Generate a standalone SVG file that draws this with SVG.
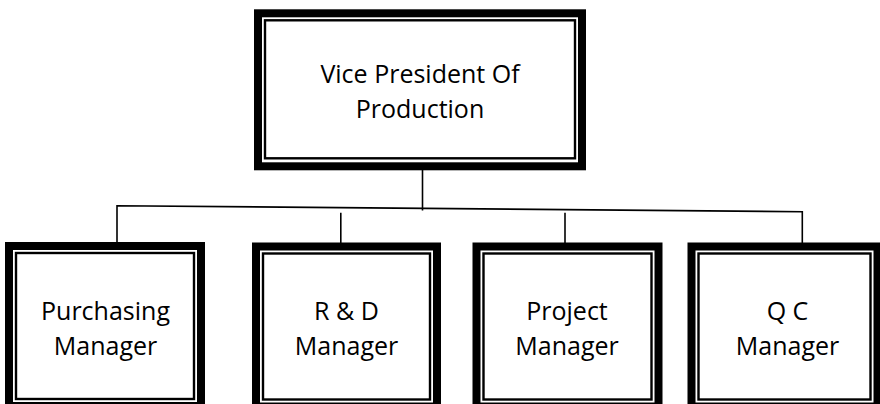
<svg xmlns="http://www.w3.org/2000/svg" width="880" height="404" viewBox="0 0 880 404">
  <style>
    .frame { fill: #ffffff; stroke: #000000; stroke-width: 8; }
    .inner { fill: none; stroke: #000000; stroke-width: 2.4; }
    .label { font-family: "Open Sans", "Noto Sans", "DejaVu Sans", sans-serif; font-size: 25px; fill: #000000; text-anchor: middle; }
    .link { fill: none; stroke: #000000; stroke-width: 1.6; }
  </style>
  <rect width="880" height="404" fill="#ffffff"/>

  <!-- connectors -->
  <g id="connectors">
    <line class="link" x1="422.5" y1="170" x2="422.5" y2="210.5"/>
    <polyline class="link" points="117,246 117,205.7 802.3,211.7 802.3,253"/>
    <line class="link" x1="340.8" y1="212.7" x2="340.8" y2="253"/>
    <line class="link" x1="565" y1="212.7" x2="565" y2="253"/>
  </g>

  <!-- top: Vice President -->
  <g id="vp-production">
    <rect class="frame" x="258" y="13.3" width="324" height="153"/>
    <rect class="inner" x="265" y="20.3" width="310" height="138"/>
    <text class="label" x="420" y="82.7">Vice President Of</text>
    <text class="label" x="420" y="118">Production</text>
  </g>

  <!-- managers -->
  <g id="purchasing-manager">
    <rect class="frame" x="9" y="246" width="192" height="160"/>
    <rect class="inner" x="16" y="253" width="178" height="146"/>
    <text class="label" x="105.5" y="320">Purchasing</text>
    <text class="label" x="105.5" y="355">Manager</text>
  </g>

  <g id="rd-manager">
    <rect class="frame" x="256" y="246.5" width="181" height="160"/>
    <rect class="inner" x="263" y="253.5" width="167" height="146"/>
    <text class="label" x="346.5" y="320">R &amp; D</text>
    <text class="label" x="346.5" y="355">Manager</text>
  </g>

  <g id="project-manager">
    <rect class="frame" x="476.5" y="246.5" width="182" height="160"/>
    <rect class="inner" x="483.5" y="253.5" width="168" height="146"/>
    <text class="label" x="567" y="320">Project</text>
    <text class="label" x="567" y="355">Manager</text>
  </g>

  <g id="qc-manager">
    <rect class="frame" x="691.5" y="246.5" width="186" height="160"/>
    <rect class="inner" x="698.5" y="253.5" width="172" height="146"/>
    <text class="label" x="787.5" y="320">Q C</text>
    <text class="label" x="787.5" y="355">Manager</text>
  </g>
</svg>
